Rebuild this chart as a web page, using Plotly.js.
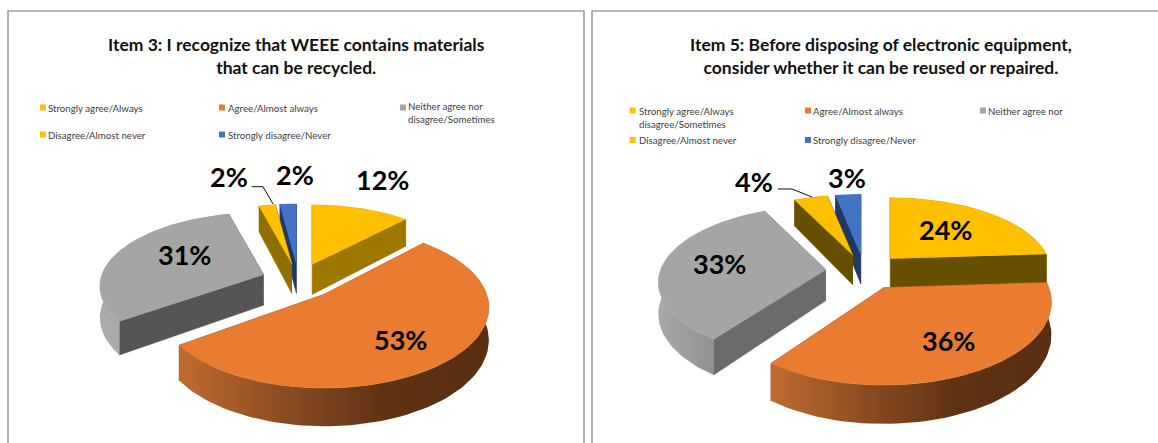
<!DOCTYPE html>
<html>
<head>
<meta charset="utf-8">
<script src="https://cdn.plot.ly/plotly-3.0.1.min.js"></script>
<style>html,body{margin:0;padding:0;background:#fff}#chart{width:1158px;height:443px}</style>
</head>
<body>
<div id="chart"></div>
<script>
// Survey answers, in percent
const item3Values = [12, 53, 31, 2, 2];
const item5Values = [24, 36, 33, 4, 3];

const item3Title = "Item 3: I recognize that WEEE contains materials<br>that can be recycled.";
const item5Title = "Item 5: Before disposing of electronic equipment,<br>consider whether it can be reused or repaired.";

const item3Legend = ["Strongly agree/Always", "Agree/Almost always", "Neither agree nor<br>disagree/Sometimes", "Disagree/Almost never", "Strongly disagree/Never"];
const item5Legend = ["Strongly agree/Always<br>disagree/Sometimes", "Agree/Almost always", "Neither agree nor", "Disagree/Almost never", "Strongly disagree/Never"];

const topColors = ["#FFC000", "#E97C30", "#A5A5A5", "#FFC000", "#4472C4"];

// Projection and styling of each exploded pie
const pies = [{
  values: item3Values, title: item3Title, legend: item3Legend,
  titleAt: [296, 55.5],
  cx: 298.7, cy: 280.5, a: 157.5, b: 73.9, k: 0.16, explode: 0.24, depth: 31,
  stretch: [1, 1, 1.04, 1, 1],
  radialWalls: ["#9C7800", "#8A4A1E", "#555555", "#8F6E00", "#1F3864"],
  rimWalls: [["#9C7800", "#9C7800"], ["#C06C30", "#8C4C22", "#5F3214", "#5A2E12"], ["#ABABAB", "#9E9E9E"], ["#8F6E00", "#8F6E00"], ["#1F3864", "#1F3864"]],
  labels: [[382, 179], [400, 339], [184, 254], [229, 176], [295, 174]],
  leader: { x: [251.7, 263, 273], y: [186.7, 186.7, 204] },
  swatches: [[43, 107.5], [222, 107.5], [403, 107.5], [43, 134.5], [222, 134.5]],
  legendText: [[46, 107.5], [225.5, 107.5], [405.5, 112.5], [46, 134.5], [225.5, 134.5]]
}, {
  values: item5Values, title: item5Title, legend: item5Legend,
  titleAt: [881, 55.5],
  cx: 864.4, cy: 271.4, a: 162.6, b: 75, k: 0.167, explode: 0.239, depth: 31,
  stretch: [1, 0.98, 1.02, 1, 1],
  radialWalls: ["#665000", "#8A4A1E", "#6B6B6B", "#665000", "#203864"],
  rimWalls: [["#665000", "#665000"], ["#C06C30", "#8C4C22", "#5F3214", "#5A2E12"], ["#A8A8A8", "#7C7C7C"], ["#665000", "#665000"], ["#203864", "#203864"]],
  labels: [[945, 229], [948, 340], [719, 263], [754, 181], [847, 177]],
  leader: { x: [778, 792, 812], y: [189, 189, 197] },
  swatches: [[632.7, 110.5], [808, 110.5], [983, 110.5], [632.7, 140], [808, 140]],
  legendText: [[636.7, 117], [811, 110.5], [985.6, 110.5], [636.7, 140], [811, 140]]
}];

const panelEdges = [{ x: [8, 8, 584, 584], y: [443, 11, 11, 443] }, { x: [592, 592, 1158], y: [443, 11, 11] }];

const traces = [];
const annotations = [];

function plain(x, y, color) {
  return { x, y, mode: "lines", fill: "toself", fillcolor: color, line: { width: 0.6, color }, hoverinfo: "skip", showlegend: false };
}
function shaded(x, y, stops) {
  const colorscale = stops.map((c, i) => [i / (stops.length - 1), c]);
  return { x, y, mode: "lines", fill: "toself", line: { width: 0 }, fillgradient: { type: "horizontal", colorscale }, hoverinfo: "skip", showlegend: false };
}

pies.forEach(pie => {
  // Perspective scale on the ground plane; v grows towards the viewer
  const scale = v => 1 / (1 - pie.k * v);
  const total = pie.values.reduce((s, v) => s + v, 0);
  let run = 0;
  const slices = pie.values.map((value, i) => {
    const from = run / total * 2 * Math.PI;
    run += value;
    const to = run / total * 2 * Math.PI;
    return { i, from, to, mid: (from + to) / 2 };
  });
  // Far slices first so that the near ones overlap them
  slices.slice().sort((p, q) => Math.cos(q.mid) - Math.cos(p.mid)).forEach(s => {
    const ou = pie.explode * Math.sin(s.mid), ov = -pie.explode * Math.cos(s.mid);
    const w0 = scale(ov);
    const apex = { x: pie.cx + pie.a * ou * w0, y: pie.cy + pie.b * ov * w0, w: w0 };
    const rim = [];
    const steps = Math.max(4, Math.ceil((s.to - s.from) / (Math.PI / 90)));
    for (let n = 0; n <= steps; n++) {
      const t = s.from + (s.to - s.from) * n / steps;
      const v = ov - Math.cos(t), w = scale(v);
      rim.push({ x: apex.x + pie.a * pie.stretch[s.i] * Math.sin(t) * w, y: pie.cy + pie.b * v * w, w });
    }
    const drop = p => p.y + pie.depth * p.w;
    const first = rim[0], last = rim[rim.length - 1];
    const wallColor = pie.radialWalls[s.i];
    traces.push(plain([apex.x, first.x, first.x, apex.x], [apex.y, first.y, drop(first), drop(apex)], wallColor));
    traces.push(plain([apex.x, last.x, last.x, apex.x], [apex.y, last.y, drop(last), drop(apex)], wallColor));
    traces.push(shaded(rim.map(p => p.x).concat(rim.map(p => p.x).reverse()),
      rim.map(p => p.y).concat(rim.map(drop).reverse()), pie.rimWalls[s.i]));
    traces.push(plain([apex.x].concat(rim.map(p => p.x)), [apex.y].concat(rim.map(p => p.y)), topColors[s.i]));
  });

  // Value labels
  pie.values.forEach((value, i) => {
    annotations.push({ x: pie.labels[i][0], y: pie.labels[i][1], text: "<b>" + value + "%</b>", showarrow: false,
      font: { family: "Lato", size: 27, color: "#000" }, xanchor: "center", yanchor: "middle" });
  });
  traces.push({ x: pie.leader.x, y: pie.leader.y, mode: "lines", line: { color: "#111", width: 1 }, hoverinfo: "skip", showlegend: false });

  // Legend
  traces.push({ x: pie.swatches.map(p => p[0]), y: pie.swatches.map(p => p[1]), mode: "markers",
    marker: { symbol: "square", size: 6, color: topColors }, hoverinfo: "skip", showlegend: false });
  pie.legend.forEach((label, i) => {
    annotations.push({ x: pie.legendText[i][0], y: pie.legendText[i][1], text: label, showarrow: false, align: "left",
      xanchor: "left", yanchor: "middle", font: { family: "Lato", size: 9.7, color: "#404040" } });
  });

  // Title
  annotations.push({ x: pie.titleAt[0], y: pie.titleAt[1], text: "<b>" + pie.title + "</b>", showarrow: false, align: "center",
    xanchor: "center", yanchor: "middle", font: { family: "Lato", size: 17.5, color: "#111" } });
});

panelEdges.forEach(edge => {
  traces.unshift({ x: edge.x, y: edge.y, mode: "lines", line: { color: "#A0A0A0", width: 1.6 }, hoverinfo: "skip", showlegend: false });
});

Plotly.newPlot("chart", traces, {
  width: 1158, height: 443,
  margin: { l: 0, r: 0, t: 0, b: 0 },
  paper_bgcolor: "#fff", plot_bgcolor: "#fff",
  showlegend: false,
  xaxis: { range: [0, 1158], visible: false, fixedrange: true },
  yaxis: { range: [443, 0], visible: false, fixedrange: true },
  annotations
}, { displayModeBar: false, staticPlot: true });
</script>
</body>
</html>
